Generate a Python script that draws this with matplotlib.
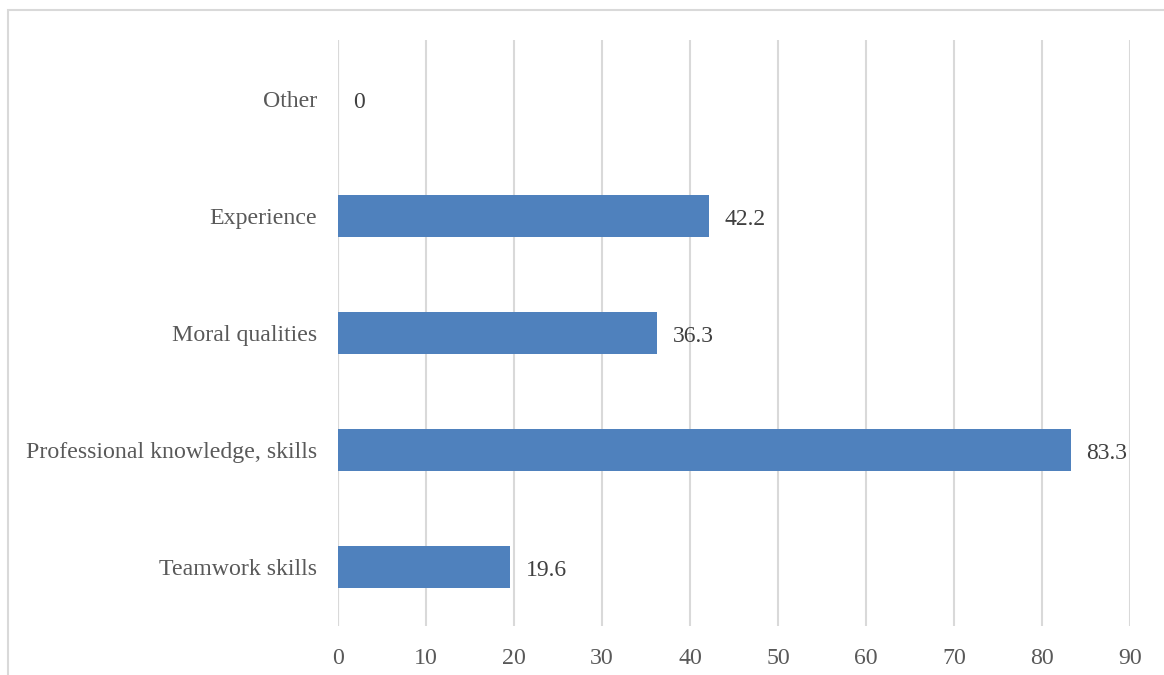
import matplotlib.pyplot as plt
from matplotlib.patches import Rectangle

categories = ['Teamwork skills', 'Professional knowledge, skills', 'Moral qualities', 'Experience', 'Other']
values = [19.6, 83.3, 36.3, 42.2, 0]
xticks = [0, 10, 20, 30, 40, 50, 60, 70, 80, 90]

plt.rcParams['font.family'] = ['Liberation Serif', 'DejaVu Serif']
text_color = '#595959'
grid_color = '#D9D9D9'

fig = plt.figure(figsize=(11.64, 6.75), dpi=100)
ax = fig.add_axes([338 / 1164, 1 - 626 / 675, (1130 - 338) / 1164, (626 - 40) / 675])

# outer chart frame, runs past the right and bottom edges
fig.patches.append(Rectangle((7.5 / 1164, -0.1), 1.2, 1 - 10.5 / 675 + 0.1,
                             transform=fig.transFigure, fill=False,
                             edgecolor=grid_color, linewidth=1.5))

ypos = range(len(categories))
ax.barh(ypos, values, height=0.36, color='#4F81BD', zorder=3)
for y, v in zip(ypos, values):
    ax.annotate(f'{v:g}', (v, y), xytext=(11, -2.5), textcoords='offset points',
                va='center', ha='left', fontsize=17, color='#404040')

ax.set_xlim(0, 90)
ax.set_ylim(-0.5, len(categories) - 0.5)
ax.set_xticks(xticks)
ax.set_yticks(list(ypos))
ax.set_yticklabels(categories)
ax.tick_params(axis='both', length=0, labelsize=17.2, labelcolor=text_color)
ax.tick_params(axis='x', pad=15.5)
ax.tick_params(axis='y', pad=15)
ax.grid(axis='x', color=grid_color, linewidth=1.5, zorder=0)
ax.axvline(0, color=grid_color, linewidth=1.5, zorder=1)
for s in ax.spines.values():
    s.set_visible(False)

fig.savefig('out.png', dpi=100)
